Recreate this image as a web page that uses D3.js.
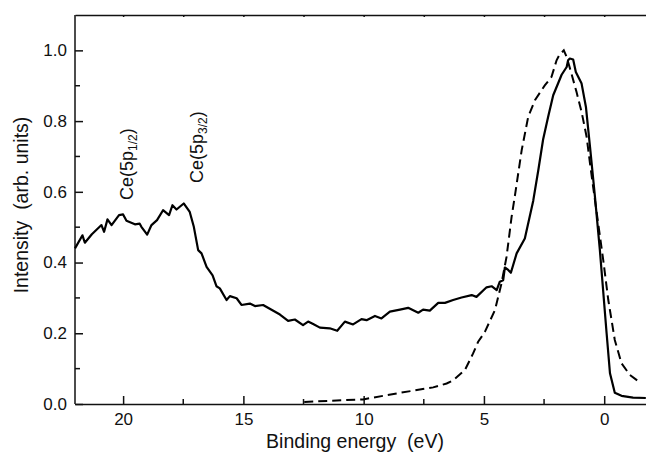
<!DOCTYPE html>
<html>
<head>
  <meta charset="utf-8">
  <style>
    body { margin: 0; background: #fff; }
    svg text { font-family: "Liberation Sans", Arial, sans-serif; fill: #111; white-space: pre; }
    .axis line, .axis path { stroke: #111; stroke-width: 1.5px; }
    .axis text { font-size: 17px; }
  </style>
</head>
<body>
<script src="https://cdn.jsdelivr.net/npm/d3@7"></script>
<script>
  // solid curve (binding energy in eV, intensity)
  var solidE = [22.0, 21.69, 21.59, 21.3, 20.9, 20.79, 20.65, 20.48, 20.17, 20.0, 19.86, 19.51, 19.31, 19.24, 19.0,
    18.82, 18.59, 18.34, 18.09, 17.95, 17.78, 17.48, 17.23, 17.06, 16.88, 16.74, 16.53, 16.28, 16.12, 15.98,
    15.7, 15.56, 15.28, 15.08, 14.73, 14.52, 14.18, 13.48, 13.14, 12.86, 12.52, 12.31, 12.1, 11.82, 11.41,
    11.1, 10.78, 10.44, 10.09, 9.88, 9.53, 9.26, 8.91, 8.49, 8.15, 7.73, 7.53, 7.25, 6.9, 6.62,
    6.28, 5.93, 5.51, 5.31, 4.89, 4.68, 4.47, 4.34, 4.2, 4.13, 3.99, 3.88, 3.64, 3.3, 2.95,
    2.74, 2.54, 2.33, 2.12, 1.77, 1.56, 1.5, 1.43, 1.29, 1.18, 0.94, 0.76, 0.59, 0.39, 0.18,
    -0.1, -0.24, -0.44, -0.72, -1.2, -1.73];
  var solidI = [0.44, 0.477, 0.456, 0.48, 0.506, 0.487, 0.522, 0.506, 0.534, 0.536, 0.518, 0.508, 0.51, 0.501, 0.479,
    0.506, 0.52, 0.548, 0.534, 0.562, 0.55, 0.567, 0.543, 0.501, 0.435, 0.426, 0.388, 0.364, 0.333, 0.327,
    0.294, 0.305, 0.299, 0.28, 0.284, 0.277, 0.28, 0.253, 0.235, 0.239, 0.223, 0.233, 0.226, 0.216, 0.214,
    0.207, 0.233, 0.225, 0.24, 0.237, 0.249, 0.242, 0.261, 0.267, 0.272, 0.258, 0.267, 0.264, 0.286, 0.286,
    0.294, 0.301, 0.308, 0.303, 0.33, 0.333, 0.322, 0.346, 0.35, 0.386, 0.379, 0.371, 0.426, 0.468, 0.575,
    0.661, 0.748, 0.812, 0.873, 0.931, 0.953, 0.972, 0.977, 0.974, 0.939, 0.906, 0.84, 0.727, 0.59, 0.435,
    0.2, 0.087, 0.032, 0.023, 0.018, 0.017];

  // dashed curve
  var dashE = [12.47, 10.02, 8.63, 7.11, 6.55, 6.28, 5.79, 5.45, 5.24, 4.96, 4.54, 4.27, 4.06, 3.85, 3.71,
    3.43, 3.16, 2.88, 2.47, 2.19, 1.98, 1.87, 1.68, 1.56, 1.36, 1.15, 0.94, 0.73, 0.59, 0.46,
    0.04, -0.17, -0.44, -0.72, -1.07, -1.5];
  var dashI = [0.006, 0.013, 0.03, 0.047, 0.058, 0.067, 0.096, 0.143, 0.176, 0.204, 0.266, 0.341, 0.416, 0.529, 0.59,
    0.718, 0.812, 0.859, 0.901, 0.925, 0.972, 0.986, 1.0, 0.981, 0.934, 0.882, 0.826, 0.755, 0.68, 0.614,
    0.407, 0.294, 0.181, 0.115, 0.082, 0.06];

  var xTicks = [20, 15, 10, 5, 0];
  var xMinor = [17.5, 12.5, 7.5, 2.5];
  var yTicks = [0, 0.2, 0.4, 0.6, 0.8, 1.0];
  var yMinor = [0.1, 0.3, 0.5, 0.7, 0.9];

  var W = 646, H = 456;
  var plotLeft = 75, plotRight = 646.3, plotTop = 15, plotBottom = 404;

  var svg = d3.select("body").append("svg")
      .attr("width", W)
      .attr("height", H);

  var x = d3.scaleLinear().domain([22, -1.75]).range([plotLeft, plotRight]);
  var y = d3.scaleLinear().domain([0, 1.1]).range([plotBottom, plotTop]);

  // bottom axis, ticks inside
  var gx = svg.append("g").attr("class", "axis")
      .attr("transform", "translate(0," + plotBottom + ")")
      .call(d3.axisBottom(x).tickValues(xTicks).tickSize(-8).tickSizeOuter(0).tickPadding(9)
        .tickFormat(d3.format("d")));
  gx.selectAll(".minor").data(xMinor).enter().append("line")
      .attr("class", "minor")
      .attr("x1", function (d) { return x(d); })
      .attr("x2", function (d) { return x(d); })
      .attr("y1", 0).attr("y2", -5);

  // top axis line with tiny ticks
  svg.append("g").attr("class", "axis")
      .attr("transform", "translate(0," + plotTop + ")")
      .call(d3.axisTop(x).tickValues(xTicks.concat(xMinor)).tickSize(-2).tickSizeOuter(0).tickFormat(""));

  // left axis, ticks inside
  var gy = svg.append("g").attr("class", "axis")
      .attr("transform", "translate(" + plotLeft + ",0)")
      .call(d3.axisLeft(y).tickValues(yTicks).tickSize(-8).tickSizeOuter(0).tickPadding(8)
        .tickFormat(d3.format(".1f")));
  gy.selectAll(".minor").data(yMinor).enter().append("line")
      .attr("class", "minor")
      .attr("y1", function (d) { return y(d); })
      .attr("y2", function (d) { return y(d); })
      .attr("x1", 0).attr("x2", 5);
  gy.select(".domain").attr("d", "M0," + plotTop + "V" + plotBottom);

  // axis titles
  svg.append("text")
      .attr("x", 355).attr("y", 448)
      .attr("text-anchor", "middle")
      .style("font-size", "19.5px")
      .text("Binding energy  (eV)");

  svg.append("text")
      .attr("transform", "translate(28,205) rotate(-90)")
      .attr("text-anchor", "middle")
      .style("font-size", "19.5px")
      .text("Intensity  (arb. units)");

  // curves
  var line = d3.line()
      .x(function (d) { return x(d[0]); })
      .y(function (d) { return y(d[1]); });

  svg.append("path")
      .attr("d", line(d3.zip(dashE, dashI)))
      .style("fill", "none")
      .style("stroke", "#000")
      .style("stroke-width", "2px")
      .style("stroke-dasharray", "9,5");

  svg.append("path")
      .attr("d", line(d3.zip(solidE, solidI)))
      .style("fill", "none")
      .style("stroke", "#000")
      .style("stroke-width", "2.2px")
      .style("stroke-linejoin", "round");

  // peak labels
  function peakLabel(px, py, sub) {
    var t = svg.append("text")
        .attr("transform", "translate(" + px + "," + py + ") rotate(-90)")
        .style("font-size", "18px");
    t.append("tspan").text("Ce(5p");
    t.append("tspan").attr("dy", 4).style("font-size", "12px").text(sub);
    t.append("tspan").attr("dy", -4).text(")");
  }
  peakLabel(133, 200, "1/2");
  peakLabel(203, 183, "3/2");
</script>
</body>
</html>
